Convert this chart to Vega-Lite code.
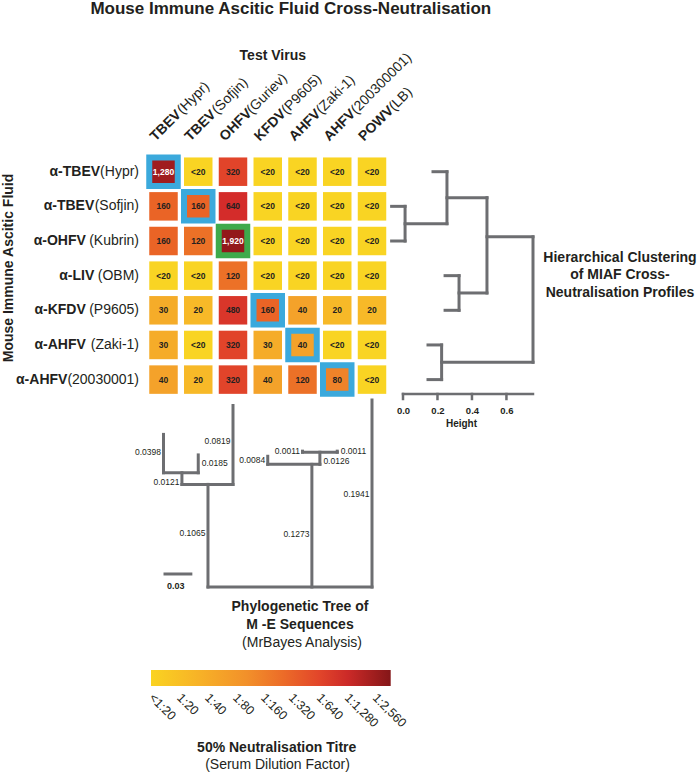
{
  "$schema": "https://vega.github.io/schema/vega-lite/v6.json",
  "width": 697,
  "height": 773,
  "autosize": "none",
  "padding": 0,
  "background": "white",
  "config": {"view": {"stroke": null}, "text": {"font": "Liberation Sans", "color": "#231F20"}},
  "datasets": {
    "cells": [
      {"r":1,"c":1,"titre":1280,"label":"1,280","highlight":"homologous"},
      {"r":1,"c":2,"titre":10,"label":"<20","highlight":"none"},
      {"r":1,"c":3,"titre":320,"label":"320","highlight":"none"},
      {"r":1,"c":4,"titre":10,"label":"<20","highlight":"none"},
      {"r":1,"c":5,"titre":10,"label":"<20","highlight":"none"},
      {"r":1,"c":6,"titre":10,"label":"<20","highlight":"none"},
      {"r":1,"c":7,"titre":10,"label":"<20","highlight":"none"},
      {"r":2,"c":1,"titre":160,"label":"160","highlight":"none"},
      {"r":2,"c":2,"titre":160,"label":"160","highlight":"homologous"},
      {"r":2,"c":3,"titre":640,"label":"640","highlight":"none"},
      {"r":2,"c":4,"titre":10,"label":"<20","highlight":"none"},
      {"r":2,"c":5,"titre":10,"label":"<20","highlight":"none"},
      {"r":2,"c":6,"titre":10,"label":"<20","highlight":"none"},
      {"r":2,"c":7,"titre":10,"label":"<20","highlight":"none"},
      {"r":3,"c":1,"titre":160,"label":"160","highlight":"none"},
      {"r":3,"c":2,"titre":120,"label":"120","highlight":"none"},
      {"r":3,"c":3,"titre":1920,"label":"1,920","highlight":"peak"},
      {"r":3,"c":4,"titre":10,"label":"<20","highlight":"none"},
      {"r":3,"c":5,"titre":10,"label":"<20","highlight":"none"},
      {"r":3,"c":6,"titre":10,"label":"<20","highlight":"none"},
      {"r":3,"c":7,"titre":10,"label":"<20","highlight":"none"},
      {"r":4,"c":1,"titre":10,"label":"<20","highlight":"none"},
      {"r":4,"c":2,"titre":10,"label":"<20","highlight":"none"},
      {"r":4,"c":3,"titre":120,"label":"120","highlight":"none"},
      {"r":4,"c":4,"titre":10,"label":"<20","highlight":"none"},
      {"r":4,"c":5,"titre":10,"label":"<20","highlight":"none"},
      {"r":4,"c":6,"titre":10,"label":"<20","highlight":"none"},
      {"r":4,"c":7,"titre":10,"label":"<20","highlight":"none"},
      {"r":5,"c":1,"titre":30,"label":"30","highlight":"none"},
      {"r":5,"c":2,"titre":20,"label":"20","highlight":"none"},
      {"r":5,"c":3,"titre":480,"label":"480","highlight":"none"},
      {"r":5,"c":4,"titre":160,"label":"160","highlight":"homologous"},
      {"r":5,"c":5,"titre":40,"label":"40","highlight":"none"},
      {"r":5,"c":6,"titre":20,"label":"20","highlight":"none"},
      {"r":5,"c":7,"titre":20,"label":"20","highlight":"none"},
      {"r":6,"c":1,"titre":30,"label":"30","highlight":"none"},
      {"r":6,"c":2,"titre":10,"label":"<20","highlight":"none"},
      {"r":6,"c":3,"titre":320,"label":"320","highlight":"none"},
      {"r":6,"c":4,"titre":30,"label":"30","highlight":"none"},
      {"r":6,"c":5,"titre":40,"label":"40","highlight":"homologous"},
      {"r":6,"c":6,"titre":10,"label":"<20","highlight":"none"},
      {"r":6,"c":7,"titre":10,"label":"<20","highlight":"none"},
      {"r":7,"c":1,"titre":40,"label":"40","highlight":"none"},
      {"r":7,"c":2,"titre":20,"label":"20","highlight":"none"},
      {"r":7,"c":3,"titre":320,"label":"320","highlight":"none"},
      {"r":7,"c":4,"titre":40,"label":"40","highlight":"none"},
      {"r":7,"c":5,"titre":120,"label":"120","highlight":"none"},
      {"r":7,"c":6,"titre":80,"label":"80","highlight":"homologous"},
      {"r":7,"c":7,"titre":10,"label":"<20","highlight":"none"}
    ],
    "rowlabels": [
      {"r":1,"serum":"α-TBEV","strain":"(Hypr)"},
      {"r":2,"serum":"α-TBEV","strain":"(Sofjin)"},
      {"r":3,"serum":"α-OHFV","strain":" (Kubrin)"},
      {"r":4,"serum":"α-LIV","strain":" (OBM)"},
      {"r":5,"serum":"α-KFDV","strain":" (P9605)"},
      {"r":6,"serum":"α-AHFV","strain":" (Zaki-1)"},
      {"r":7,"serum":"α-AHFV","strain":"(20030001)"}
    ],
    "collabels": [
      {"c":1,"virus":"TBEV","strain":"(Hypr)"},
      {"c":2,"virus":"TBEV","strain":"(Sofjin)"},
      {"c":3,"virus":"OHFV","strain":"(Guriev)"},
      {"c":4,"virus":"KFDV","strain":"(P9605)"},
      {"c":5,"virus":"AHFV","strain":"(Zaki-1)"},
      {"c":6,"virus":"AHFV","strain":"(200300001)"},
      {"c":7,"virus":"POWV","strain":"(LB)"}
    ],
    "tree": [
      {"c1":2.28,"c2":7,"d1":0,"d2":0},
      {"c1":2.28,"c2":2.28,"d1":0,"d2":0.1065},
      {"c1":1.53,"c2":3,"d1":0.1065,"d2":0.1065},
      {"c1":1.53,"c2":1.53,"d1":0.1065,"d2":0.1186},
      {"c1":1,"c2":2,"d1":0.1186,"d2":0.1186},
      {"c1":1,"c2":1,"d1":0.1186,"d2":0.1584},
      {"c1":2,"c2":2,"d1":0.1186,"d2":0.1371},
      {"c1":3,"c2":3,"d1":0.1065,"d2":0.1884},
      {"c1":5.27,"c2":5.27,"d1":0,"d2":0.1273},
      {"c1":4,"c2":5.5,"d1":0.1273,"d2":0.1273},
      {"c1":4,"c2":4,"d1":0.1273,"d2":0.1357},
      {"c1":5.5,"c2":5.5,"d1":0.1273,"d2":0.1399},
      {"c1":5,"c2":6,"d1":0.1399,"d2":0.1399},
      {"c1":5,"c2":5,"d1":0.1399,"d2":0.141},
      {"c1":6,"c2":6,"d1":0.1399,"d2":0.141},
      {"c1":7,"c2":7,"d1":0,"d2":0.1941}
    ],
    "branches": [
      {"text":"0.0398","c":1,"d":0.1401,"side":"left"},
      {"text":"0.0819","c":3,"d":0.1516,"side":"left"},
      {"text":"0.0121","c":1.53,"d":0.109,"side":"left"},
      {"text":"0.1065","c":2.28,"d":0.0561,"side":"left"},
      {"text":"0.0084","c":4,"d":0.1318,"side":"left"},
      {"text":"0.0011","c":5,"d":0.1412,"side":"left"},
      {"text":"0.1273","c":5.27,"d":0.055,"side":"left"},
      {"text":"0.1941","c":7,"d":0.0965,"side":"left"},
      {"text":"0.0185","c":2,"d":0.1287,"side":"right"},
      {"text":"0.0011","c":6,"d":0.1412,"side":"right"},
      {"text":"0.0126","c":5.5,"d":0.1308,"side":"right"}
    ],
    "scalebar": [{"c1":1,"c2":1.83,"d":0.0135,"label":"0.03"}],
    "dendro": [
      {"h1":0.174,"h2":0.255,"r1":1,"r2":1},
      {"h1":-0.066,"h2":0.012,"r1":2,"r2":2},
      {"h1":-0.066,"h2":0.012,"r1":3,"r2":3},
      {"h1":0.012,"h2":0.012,"r1":2,"r2":3},
      {"h1":0.012,"h2":0.255,"r1":2.5,"r2":2.5},
      {"h1":0.255,"h2":0.255,"r1":1,"r2":2.5},
      {"h1":0.255,"h2":0.487,"r1":1.75,"r2":1.75},
      {"h1":0.244,"h2":0.325,"r1":4,"r2":4},
      {"h1":0.244,"h2":0.325,"r1":5,"r2":5},
      {"h1":0.325,"h2":0.325,"r1":4,"r2":5},
      {"h1":0.325,"h2":0.487,"r1":4.5,"r2":4.5},
      {"h1":0.487,"h2":0.487,"r1":1.75,"r2":4.5},
      {"h1":0.487,"h2":0.754,"r1":2.88,"r2":2.88},
      {"h1":0.145,"h2":0.224,"r1":6,"r2":6},
      {"h1":0.145,"h2":0.224,"r1":7,"r2":7},
      {"h1":0.224,"h2":0.224,"r1":6,"r2":7},
      {"h1":0.224,"h2":0.754,"r1":6.5,"r2":6.5},
      {"h1":0.754,"h2":0.754,"r1":2.88,"r2":6.5}
    ],
    "heightaxis": [
      {"h1":0,"h2":0.754,"r1":7.4156,"r2":7.4156},
      {"h1":0,"h2":0,"r1":7.4156,"r2":7.5599},
      {"h1":0.2,"h2":0.2,"r1":7.4156,"r2":7.5599},
      {"h1":0.4,"h2":0.4,"r1":7.4156,"r2":7.5599},
      {"h1":0.6,"h2":0.6,"r1":7.4156,"r2":7.5599}
    ],
    "titres": [
      {"t":10,"label":"<1:20"},
      {"t":20,"label":"1:20"},
      {"t":40,"label":"1:40"},
      {"t":80,"label":"1:80"},
      {"t":160,"label":"1:160"},
      {"t":320,"label":"1:320"},
      {"t":640,"label":"1:640"},
      {"t":1280,"label":"1:1,280"},
      {"t":2560,"label":"1:2,560"}
    ],
    "notes": [
      {"role":"title","text":"Mouse Immune Ascitic Fluid Cross-Neutralisation","c":4.663,"r":-3.7},
      {"role":"heading","text":"Test Virus","c":4.145,"r":-2.345},
      {"role":"heading","text":"Hierarchical Clustering\nof MIAF Cross-\nNeutralisation Profiles","c":14.137,"r":3.482},
      {"role":"heading","text":"Phylogenetic Tree of\nM -E Sequences","c":4.928,"r":13.571},
      {"role":"subheading","text":"(MrBayes Analysis)","c":4.986,"r":14.611},
      {"role":"heading","text":"50% Neutralisation Titre","c":4.258,"r":17.632},
      {"role":"subheading","text":"(Serum Dilution Factor)","c":4.281,"r":18.123},
      {"role":"axis","text":"Mouse Immune Ascitic Fluid","c":-3.432,"r":3.779}
    ]
  },
  "resolve": {"scale": {"x": "independent", "y": "independent", "fill": "independent", "stroke": "independent"}},
  "layer": [
    {
      "data": {"name": "cells"},
      "mark": {"type": "square", "size": 812, "filled": true, "opacity": 1},
      "encoding": {
        "x": {"field": "c", "type": "quantitative", "scale": {"domain": [1, 7], "range": [163.5, 372], "nice": false, "zero": false}, "axis": null},
        "y": {"field": "r", "type": "quantitative", "scale": {"domain": [1, 7], "range": [171.7, 379.6], "nice": false, "zero": false}, "axis": null},
        "fill": {"field": "titre", "type": "quantitative", "scale": {"type": "log", "domain": [10, 20, 40, 80, 160, 320, 640, 1280, 2560], "range": ["#F9D423", "#F7B928", "#F4A22A", "#EF8329", "#EA6426", "#E1442A", "#D42C2A", "#A01C1F", "#8A1518"], "interpolate": "rgb"}, "legend": null},
        "stroke": {"field": "highlight", "type": "nominal", "scale": {"domain": ["none", "homologous", "peak"], "range": ["#FFFFFF", "#3BA9DC", "#3EAA4B"]}, "legend": null},
        "strokeWidth": {"condition": {"test": "datum.highlight !== 'none'", "value": 6}, "value": 0}
      }
    },
    {
      "data": {"name": "cells"},
      "mark": {"type": "text", "align": "center", "baseline": "middle", "fontSize": 8.5, "fontWeight": "bold"},
      "encoding": {
        "x": {"field": "c", "type": "quantitative", "scale": {"domain": [1, 7], "range": [163.5, 372], "nice": false, "zero": false}, "axis": null},
        "y": {"field": "r", "type": "quantitative", "scale": {"domain": [1, 7], "range": [171.7, 379.6], "nice": false, "zero": false}, "axis": null},
        "text": {"field": "label"},
        "color": {"condition": {"test": "datum.titre >= 1000", "value": "#FFFFFF"}, "value": "#231F20"}
      }
    },
    {
      "data": {"name": "rowlabels"},
      "mark": {"type": "text", "align": "right", "baseline": "middle", "fontSize": 14},
      "encoding": {
        "x": {"datum": 0.295, "type": "quantitative", "scale": {"domain": [1, 7], "range": [163.5, 372], "nice": false, "zero": false}, "axis": null},
        "y": {"field": "r", "type": "quantitative", "scale": {"domain": [1, 7], "range": [171.7, 379.6], "nice": false, "zero": false}, "axis": null},
        "text": {"field": "strain"}
      }
    },
    {
      "data": {"name": "rowlabels"},
      "transform": [{"filter": {"field": "strain", "oneOf": ["(Hypr)"]}}],
      "mark": {"type": "text", "align": "right", "baseline": "middle", "fontSize": 14, "fontWeight": "bold", "dx": -38.9},
      "encoding": {
        "x": {"datum": 0.295, "type": "quantitative", "scale": {"domain": [1, 7], "range": [163.5, 372], "nice": false, "zero": false}, "axis": null},
        "y": {"field": "r", "type": "quantitative", "scale": {"domain": [1, 7], "range": [171.7, 379.6], "nice": false, "zero": false}, "axis": null},
        "text": {"field": "serum"}
      }
    },
    {
      "data": {"name": "rowlabels"},
      "transform": [{"filter": {"field": "strain", "oneOf": ["(Sofjin)", " (OBM)"]}}],
      "mark": {"type": "text", "align": "right", "baseline": "middle", "fontSize": 14, "fontWeight": "bold", "dx": -44.7},
      "encoding": {
        "x": {"datum": 0.295, "type": "quantitative", "scale": {"domain": [1, 7], "range": [163.5, 372], "nice": false, "zero": false}, "axis": null},
        "y": {"field": "r", "type": "quantitative", "scale": {"domain": [1, 7], "range": [171.7, 379.6], "nice": false, "zero": false}, "axis": null},
        "text": {"field": "serum"}
      }
    },
    {
      "data": {"name": "rowlabels"},
      "transform": [{"filter": {"field": "strain", "oneOf": [" (Kubrin)", " (P9605)", " (Zaki-1)"]}}],
      "mark": {"type": "text", "align": "right", "baseline": "middle", "fontSize": 14, "fontWeight": "bold", "dx": -53.2},
      "encoding": {
        "x": {"datum": 0.295, "type": "quantitative", "scale": {"domain": [1, 7], "range": [163.5, 372], "nice": false, "zero": false}, "axis": null},
        "y": {"field": "r", "type": "quantitative", "scale": {"domain": [1, 7], "range": [171.7, 379.6], "nice": false, "zero": false}, "axis": null},
        "text": {"field": "serum"}
      }
    },
    {
      "data": {"name": "rowlabels"},
      "transform": [{"filter": {"field": "strain", "oneOf": ["(20030001)"]}}],
      "mark": {"type": "text", "align": "right", "baseline": "middle", "fontSize": 14, "fontWeight": "bold", "dx": -71.6},
      "encoding": {
        "x": {"datum": 0.295, "type": "quantitative", "scale": {"domain": [1, 7], "range": [163.5, 372], "nice": false, "zero": false}, "axis": null},
        "y": {"field": "r", "type": "quantitative", "scale": {"domain": [1, 7], "range": [171.7, 379.6], "nice": false, "zero": false}, "axis": null},
        "text": {"field": "serum"}
      }
    },
    {
      "data": {"name": "collabels"},
      "mark": {"type": "text", "align": "left", "baseline": "alphabetic", "angle": 315, "fontSize": 14, "fontWeight": "bold", "xOffset": -8},
      "encoding": {
        "x": {"field": "c", "type": "quantitative", "scale": {"domain": [1, 7], "range": [163.5, 372], "nice": false, "zero": false}, "axis": null},
        "y": {"datum": 0.134, "type": "quantitative", "scale": {"domain": [1, 7], "range": [171.7, 379.6], "nice": false, "zero": false}, "axis": null},
        "text": {"field": "virus"}
      }
    },
    {
      "data": {"name": "collabels"},
      "transform": [{"filter": "datum.virus !== 'POWV'"}],
      "mark": {"type": "text", "align": "left", "baseline": "alphabetic", "angle": 315, "fontSize": 14, "xOffset": -8, "dx": 38.2},
      "encoding": {
        "x": {"field": "c", "type": "quantitative", "scale": {"domain": [1, 7], "range": [163.5, 372], "nice": false, "zero": false}, "axis": null},
        "y": {"datum": 0.134, "type": "quantitative", "scale": {"domain": [1, 7], "range": [171.7, 379.6], "nice": false, "zero": false}, "axis": null},
        "text": {"field": "strain"}
      }
    },
    {
      "data": {"name": "collabels"},
      "transform": [{"filter": "datum.virus === 'POWV'"}],
      "mark": {"type": "text", "align": "left", "baseline": "alphabetic", "angle": 315, "fontSize": 14, "xOffset": -8, "dx": 42.8},
      "encoding": {
        "x": {"field": "c", "type": "quantitative", "scale": {"domain": [1, 7], "range": [163.5, 372], "nice": false, "zero": false}, "axis": null},
        "y": {"datum": 0.134, "type": "quantitative", "scale": {"domain": [1, 7], "range": [171.7, 379.6], "nice": false, "zero": false}, "axis": null},
        "text": {"field": "strain"}
      }
    },
    {
      "data": {"name": "tree"},
      "mark": {"type": "rule", "color": "#6D6E71", "strokeWidth": 3, "strokeCap": "square"},
      "encoding": {
        "x": {"field": "c1", "type": "quantitative", "scale": {"domain": [1, 7], "range": [163.5, 372], "nice": false, "zero": false}, "axis": null},
        "x2": {"field": "c2"},
        "y": {"field": "d1", "type": "quantitative", "scale": {"domain": [0, 0.1941], "range": [587, 400], "nice": false, "zero": false}, "axis": null},
        "y2": {"field": "d2"}
      }
    },
    {
      "data": {"name": "branches"},
      "transform": [{"filter": "datum.side === 'left'"}],
      "mark": {"type": "text", "align": "right", "baseline": "middle", "fontSize": 8.5, "dx": -2.5},
      "encoding": {
        "x": {"field": "c", "type": "quantitative", "scale": {"domain": [1, 7], "range": [163.5, 372], "nice": false, "zero": false}, "axis": null},
        "y": {"field": "d", "type": "quantitative", "scale": {"domain": [0, 0.1941], "range": [587, 400], "nice": false, "zero": false}, "axis": null},
        "text": {"field": "text"}
      }
    },
    {
      "data": {"name": "branches"},
      "transform": [{"filter": "datum.side === 'right'"}],
      "mark": {"type": "text", "align": "left", "baseline": "middle", "fontSize": 8.5, "dx": 3.5},
      "encoding": {
        "x": {"field": "c", "type": "quantitative", "scale": {"domain": [1, 7], "range": [163.5, 372], "nice": false, "zero": false}, "axis": null},
        "y": {"field": "d", "type": "quantitative", "scale": {"domain": [0, 0.1941], "range": [587, 400], "nice": false, "zero": false}, "axis": null},
        "text": {"field": "text"}
      }
    },
    {
      "data": {"name": "scalebar"},
      "mark": {"type": "rule", "color": "#6D6E71", "strokeWidth": 3},
      "encoding": {
        "x": {"field": "c1", "type": "quantitative", "scale": {"domain": [1, 7], "range": [163.5, 372], "nice": false, "zero": false}, "axis": null},
        "x2": {"field": "c2"},
        "y": {"field": "d", "type": "quantitative", "scale": {"domain": [0, 0.1941], "range": [587, 400], "nice": false, "zero": false}, "axis": null}
      }
    },
    {
      "data": {"name": "scalebar"},
      "mark": {"type": "text", "align": "left", "baseline": "middle", "fontSize": 9, "fontWeight": "bold", "dx": 3.5, "dy": 12},
      "encoding": {
        "x": {"field": "c1", "type": "quantitative", "scale": {"domain": [1, 7], "range": [163.5, 372], "nice": false, "zero": false}, "axis": null},
        "y": {"field": "d", "type": "quantitative", "scale": {"domain": [0, 0.1941], "range": [587, 400], "nice": false, "zero": false}, "axis": null},
        "text": {"field": "label"}
      }
    },
    {
      "data": {"name": "dendro"},
      "mark": {"type": "rule", "color": "#6D6E71", "strokeWidth": 3, "strokeCap": "square"},
      "encoding": {
        "x": {"field": "h1", "type": "quantitative", "scale": {"domain": [0, 0.754], "range": [403, 533], "nice": false, "zero": false},
          "axis": {"orient": "bottom", "offset": -379, "values": [0, 0.2, 0.4, 0.6], "format": ".1f", "grid": false,
            "domain": false, "ticks": false,
            "labelFont": "Liberation Sans", "labelFontSize": 9.5, "labelFontWeight": "bold", "labelColor": "#231F20", "labelPadding": 11,
            "labelFlush": false, "labelOverlap": false,
            "title": "Height", "titleFont": "Liberation Sans", "titleFontSize": 10, "titleFontWeight": "bold", "titleColor": "#231F20",
            "titleX": 461, "titleY": 29, "titleAlign": "center", "titleBaseline": "middle"}},
        "x2": {"field": "h2"},
        "y": {"field": "r1", "type": "quantitative", "scale": {"domain": [1, 7], "range": [171.7, 379.6], "nice": false, "zero": false}, "axis": null},
        "y2": {"field": "r2"}
      }
    },
    {
      "data": {"name": "heightaxis"},
      "mark": {"type": "rule", "color": "#6D6E71", "strokeWidth": 2.5, "strokeCap": "square"},
      "encoding": {
        "x": {"field": "h1", "type": "quantitative", "scale": {"domain": [-0.1, 0.8], "range": [385.76, 540.92], "nice": false, "zero": false}, "axis": null},
        "x2": {"field": "h2"},
        "y": {"field": "r1", "type": "quantitative", "scale": {"domain": [1, 8], "range": [171.7, 414.25], "nice": false, "zero": false}, "axis": null},
        "y2": {"field": "r2"}
      }
    },
    {
      "data": {"values": [{"lo": 10, "hi": 2560}]},
      "mark": {"type": "rect", "xOffset": -4.5, "x2Offset": 11.7,
        "fill": {"x1": 0, "y1": 0, "x2": 1, "y2": 0, "gradient": "linear", "stops": [
          {"offset": 0, "color": "#FAD321"},
          {"offset": 0.2, "color": "#F7B227"},
          {"offset": 0.4, "color": "#F2902A"},
          {"offset": 0.55, "color": "#EC6C28"},
          {"offset": 0.7, "color": "#E2462A"},
          {"offset": 0.82, "color": "#CC2A28"},
          {"offset": 1, "color": "#841618"}]}},
      "encoding": {
        "x": {"field": "lo", "type": "quantitative", "scale": {"type": "log", "base": 2, "domain": [10, 2560], "range": [155.5, 379], "nice": false}, "axis": null},
        "x2": {"field": "hi"},
        "y": {"datum": 15.381, "type": "quantitative", "scale": {"domain": [1, 7], "range": [171.7, 379.6], "nice": false, "zero": false}, "axis": null},
        "y2": {"datum": 15.843}
      }
    },
    {
      "data": {"name": "titres"},
      "mark": {"type": "text", "align": "left", "baseline": "top", "angle": 45, "fontSize": 12.5},
      "encoding": {
        "x": {"field": "t", "type": "quantitative", "scale": {"type": "log", "base": 2, "domain": [10, 2560], "range": [155.5, 379], "nice": false}, "axis": null},
        "y": {"datum": 16.0, "type": "quantitative", "scale": {"domain": [1, 7], "range": [171.7, 379.6], "nice": false, "zero": false}, "axis": null},
        "text": {"field": "label"}
      }
    },
    {
      "data": {"name": "notes"},
      "transform": [{"filter": "datum.role === 'title'"}],
      "mark": {"type": "text", "align": "center", "baseline": "middle", "fontSize": 17, "fontWeight": "bold"},
      "encoding": {
        "x": {"field": "c", "type": "quantitative", "scale": {"domain": [1, 7], "range": [163.5, 372], "nice": false, "zero": false}, "axis": null},
        "y": {"field": "r", "type": "quantitative", "scale": {"domain": [1, 7], "range": [171.7, 379.6], "nice": false, "zero": false}, "axis": null},
        "text": {"field": "text"}
      }
    },
    {
      "data": {"name": "notes"},
      "transform": [{"filter": "datum.role === 'heading'"}],
      "mark": {"type": "text", "align": "center", "baseline": "middle", "fontSize": 14, "fontWeight": "bold", "lineBreak": "\n", "lineHeight": 17.5},
      "encoding": {
        "x": {"field": "c", "type": "quantitative", "scale": {"domain": [1, 7], "range": [163.5, 372], "nice": false, "zero": false}, "axis": null},
        "y": {"field": "r", "type": "quantitative", "scale": {"domain": [1, 7], "range": [171.7, 379.6], "nice": false, "zero": false}, "axis": null},
        "text": {"field": "text"}
      }
    },
    {
      "data": {"name": "notes"},
      "transform": [{"filter": "datum.role === 'subheading'"}],
      "mark": {"type": "text", "align": "center", "baseline": "middle", "fontSize": 14},
      "encoding": {
        "x": {"field": "c", "type": "quantitative", "scale": {"domain": [1, 7], "range": [163.5, 372], "nice": false, "zero": false}, "axis": null},
        "y": {"field": "r", "type": "quantitative", "scale": {"domain": [1, 7], "range": [171.7, 379.6], "nice": false, "zero": false}, "axis": null},
        "text": {"field": "text"}
      }
    },
    {
      "data": {"name": "notes"},
      "transform": [{"filter": "datum.role === 'axis'"}],
      "mark": {"type": "text", "align": "center", "baseline": "middle", "fontSize": 14, "fontWeight": "bold", "angle": 270},
      "encoding": {
        "x": {"field": "c", "type": "quantitative", "scale": {"domain": [1, 7], "range": [163.5, 372], "nice": false, "zero": false}, "axis": null},
        "y": {"field": "r", "type": "quantitative", "scale": {"domain": [1, 7], "range": [171.7, 379.6], "nice": false, "zero": false}, "axis": null},
        "text": {"field": "text"}
      }
    }
  ]
}
